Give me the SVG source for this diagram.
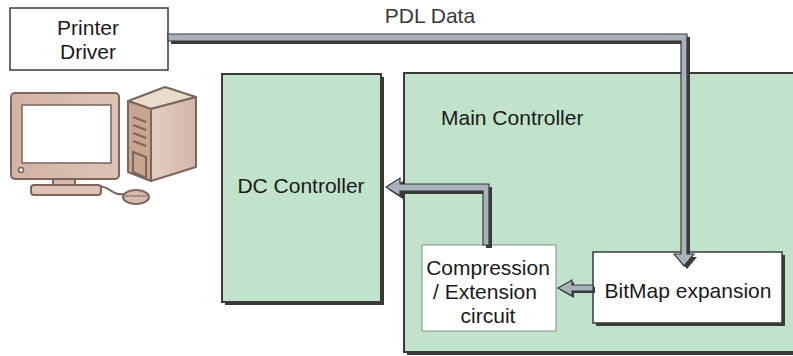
<svg xmlns="http://www.w3.org/2000/svg" width="793" height="356" viewBox="0 0 793 356">
  <defs>
    <linearGradient id="monitorBody" x1="0" y1="0" x2="1" y2="0">
      <stop offset="0" stop-color="#d2b3a4"/>
      <stop offset="1" stop-color="#dcc3b6"/>
    </linearGradient>
    <linearGradient id="towerSide" x1="0" y1="0" x2="1" y2="0">
      <stop offset="0" stop-color="#e2cfc2"/>
      <stop offset="1" stop-color="#d3b6a8"/>
    </linearGradient>
  </defs>
  <style>
    .lbl { font-family: "Liberation Sans", Arial, sans-serif; font-size: 21px; fill: #1a1a1a; }
    .mid { text-anchor: middle; }
    .panel { fill: #c1e2cb; stroke: #3a3a3a; stroke-width: 2; }
    .shadow { fill: #3a3a3a; }
    .box { fill: #ffffff; stroke: #3a3a3a; stroke-width: 1.5; }
    .pipe { fill: #a8b1bc; stroke: #3a3a3a; stroke-width: 1.2; stroke-linejoin: miter; }
    .pipeShadow { fill: #3a3a3a; }
    .pc { stroke: #7d655a; stroke-width: 2; stroke-linejoin: round; }
  </style>

  <!-- PC workstation icon -->
  <g id="computer">
    <!-- mouse cable -->
    <path d="M98,186 C110,186 112,196 124,194" fill="none" stroke="#7d655a" stroke-width="2"/>
    <!-- tower -->
    <polygon class="pc" points="128,101 165,87 196,97 151,109" fill="#e8dccb"/>
    <polygon class="pc" points="151,109 196,97 196,167 151,181" fill="url(#towerSide)"/>
    <polygon class="pc" points="128,101 151,109 151,181 128,172" fill="#c7a58f"/>
    <g stroke="#7d655a" stroke-width="2" fill="none">
      <line x1="133" y1="117" x2="146" y2="122"/>
      <line x1="133" y1="125" x2="146" y2="130"/>
      <line x1="133" y1="133" x2="146" y2="138"/>
      <line x1="133" y1="141" x2="146" y2="146"/>
      <polygon points="133,152 146,157 146,178 133,172"/>
    </g>
    <!-- stand and base -->
    <rect class="pc" x="53" y="178" width="22" height="9" fill="#d6bcae"/>
    <rect class="pc" x="31" y="185" width="70" height="10" rx="3" fill="#dcc3b6"/>
    <!-- monitor -->
    <rect class="pc" x="11" y="93" width="108" height="86" rx="4" fill="url(#monitorBody)"/>
    <rect x="22" y="105" width="89" height="58" fill="#ffffff" stroke="#7d655a" stroke-width="1.5"/>
    <circle cx="21" cy="170" r="2.5" fill="#ffffff" stroke="#7d655a" stroke-width="1.5"/>
    <!-- mouse -->
    <ellipse class="pc" cx="136" cy="197" rx="13" ry="7" fill="#d6bcae"/>
    <line x1="125" y1="196" x2="147" y2="196" stroke="#7d655a" stroke-width="1"/>
  </g>

  <!-- Printer Driver -->
  <g id="printer-driver">
    <rect x="10" y="8" width="158" height="62" fill="#ffffff" stroke="#3a3a3a" stroke-width="1.5"/>
    <text class="lbl mid" x="88" y="35">Printer</text>
    <text class="lbl mid" x="88" y="59">Driver</text>
  </g>

  <!-- DC Controller -->
  <g id="dc-controller">
    <rect class="shadow" x="225" y="77" width="159" height="228"/>
    <rect class="panel" x="222" y="74" width="159" height="228"/>
    <text class="lbl mid" x="301" y="193">DC Controller</text>
  </g>

  <!-- Main Controller -->
  <g id="main-controller">
    <rect class="shadow" x="407" y="76" width="400" height="279"/>
    <rect class="panel" x="404" y="73" width="400" height="279"/>
    <text class="lbl" x="441" y="125">Main Controller</text>
  </g>

  <!-- Compression / Extension circuit -->
  <g id="compression-circuit">
    <rect x="422" y="245" width="134" height="86" fill="#ffffff" stroke="#8a8a8a" stroke-width="1"/>
    <text class="lbl mid" x="488" y="275">Compression</text>
    <text class="lbl mid" x="485" y="299">/ Extension</text>
    <text class="lbl mid" x="488" y="323">circuit</text>
  </g>

  <!-- BitMap expansion -->
  <g id="bitmap-expansion">
    <rect class="shadow" x="596" y="255" width="189" height="71"/>
    <rect class="box" x="593" y="252" width="189" height="71"/>
    <text class="lbl mid" x="688" y="298">BitMap expansion</text>
  </g>

  <!-- data flow connectors -->
  <g id="connectors">
    <!-- PDL data: driver to bitmap expansion -->
    <polygon class="pipeShadow" transform="translate(3,3)" points="168,34 687,34 687,254 694,254 684,266 674,254 681,254 681,41 168,41"/>
    <polygon class="pipe" points="168,34 687,34 687,254 694,254 684,266 674,254 681,254 681,41 168,41"/>
    <text class="lbl mid" x="430" y="23" fill="#3a3a3a" style="fill:#3a3a3a">PDL Data</text>

    <!-- compression circuit to DC controller -->
    <polygon class="pipeShadow" transform="translate(3,3)" points="483,245 483,191 400,191 400,196 386,187 400,178 400,184 489,184 489,245"/>
    <polygon class="pipe" points="483,245 483,191 400,191 400,196 386,187 400,178 400,184 489,184 489,245"/>

    <!-- bitmap expansion to compression circuit -->
    <polygon class="pipeShadow" transform="translate(2,2)" points="593,285 572,285 572,280 558,288 572,296 572,291 593,291"/>
    <polygon class="pipe" points="593,285 572,285 572,280 558,288 572,296 572,291 593,291"/>
  </g>
</svg>
